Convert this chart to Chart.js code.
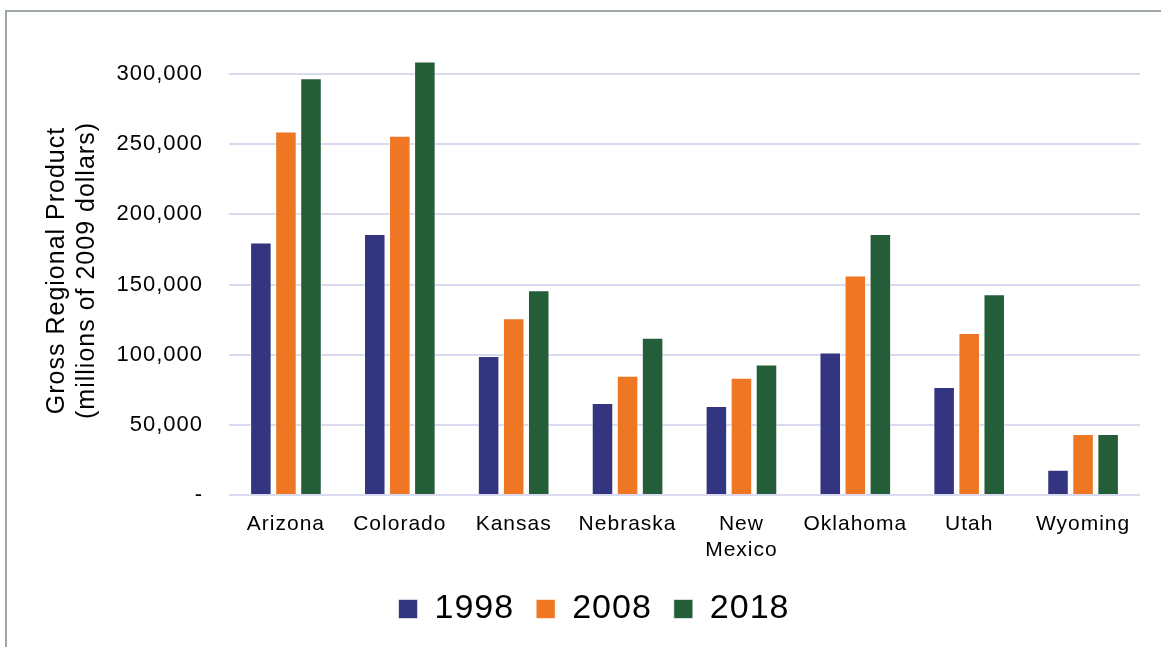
<!DOCTYPE html>
<html>
<head>
<meta charset="utf-8">
<script src="https://cdn.jsdelivr.net/npm/chart.js@4"></script>
<style>
	body { margin: 0; background: #fff; }
	#wrap { position: relative; width: 1161px; height: 647px; }
</style>
</head>
<body>
<div id="wrap"><canvas id="chart" width="1161" height="647"></canvas></div>
<script>
// states on the x axis
const states = ['Arizona', 'Colorado', 'Kansas', 'Nebraska', ['New', 'Mexico'], 'Oklahoma', 'Utah', 'Wyoming'];

// gross regional product, millions of 2009 dollars
const gdp1998 = [180000, 186000, 99000, 65500, 63500, 101500, 77000, 18000];
const gdp2008 = [259000, 256000, 126000, 85000, 83500, 156500, 115500, 43500];
const gdp2018 = [297000, 309000, 146000, 112000, 93000, 186000, 143000, 43500];

const yTicks = [0, 50000, 100000, 150000, 200000, 250000, 300000];

const FONT = "'Liberation Sans', Arial, sans-serif";

// the source text is a bit spread out
var spacingPlugin = {
	id: 'spacing',
	beforeUpdate: (chart) => { chart.ctx.letterSpacing = '1px'; },
	beforeDraw: (chart) => { chart.ctx.letterSpacing = '1px'; }
};

// grey frame round the picture
var framePlugin = {
	id: 'frame',
	beforeDraw: (chart) => {
		const ctx = chart.ctx;
		ctx.save();
		ctx.strokeStyle = '#9ea7a7';
		ctx.lineWidth = 2;
		ctx.beginPath();
		ctx.moveTo(6, 647);
		ctx.lineTo(6, 11);
		ctx.lineTo(1161, 11);
		ctx.stroke();
		ctx.restore();
	}
};

const data = {
	labels: states,
	datasets: [
		{ label: '1998', data: gdp1998, backgroundColor: '#343581' },
		{ label: '2008', data: gdp2008, backgroundColor: '#ef7622' },
		{ label: '2018', data: gdp2018, backgroundColor: '#235e39' }
	]
};

data.datasets.forEach(ds => {
	ds.borderColor = 'rgba(255,255,255,0.6)';
	ds.borderWidth = 1;
	ds.categoryPercentage = 0.66;
	ds.barPercentage = 0.86;
});

const config = {
	type: 'bar',
	data: data,
	plugins: [spacingPlugin, framePlugin],
	options: {
		responsive: false,
		animation: false,
		layout: { padding: { top: 46, right: 21, left: 48, bottom: 11 } },
		plugins: {
			legend: {
				position: 'bottom',
				labels: {
					font: { family: FONT, size: 34 },
					color: '#000',
					boxWidth: 19,
					boxHeight: 19,
					padding: 22
				}
			},
			tooltip: { enabled: false }
		},
		scales: {
			x: {
				grid: { display: false, drawTicks: false },
				border: { display: false },
				ticks: {
					font: { family: FONT, size: 21 },
					color: '#000',
					padding: 17,
					maxRotation: 0,
					autoSkip: false
				},
				afterFit: (scale) => { scale.height = 75; }
			},
			y: {
				min: 0,
				max: 320000,
				afterBuildTicks: (scale) => {
					scale.ticks = yTicks.map(v => ({ value: v }));
				},
				grid: { color: '#d9d9f0', lineWidth: 2, drawTicks: false },
				border: { display: false },
				ticks: {
					font: { family: FONT, size: 22 },
					color: '#000',
					padding: 26,
					callback: (v) => v === 0 ? '-' : v.toLocaleString('en-US')
				},
				title: {
					display: true,
					text: ['Gross Regional Product', '(millions of 2009 dollars)'],
					font: { family: FONT, size: 25 },
					color: '#000',
					padding: { top: -6, bottom: 0 }
				},
				afterFit: (scale) => { scale.width = 181; }
			}
		}
	}
};

const myChart = new Chart(document.getElementById('chart'), config);
</script>
</body>
</html>
